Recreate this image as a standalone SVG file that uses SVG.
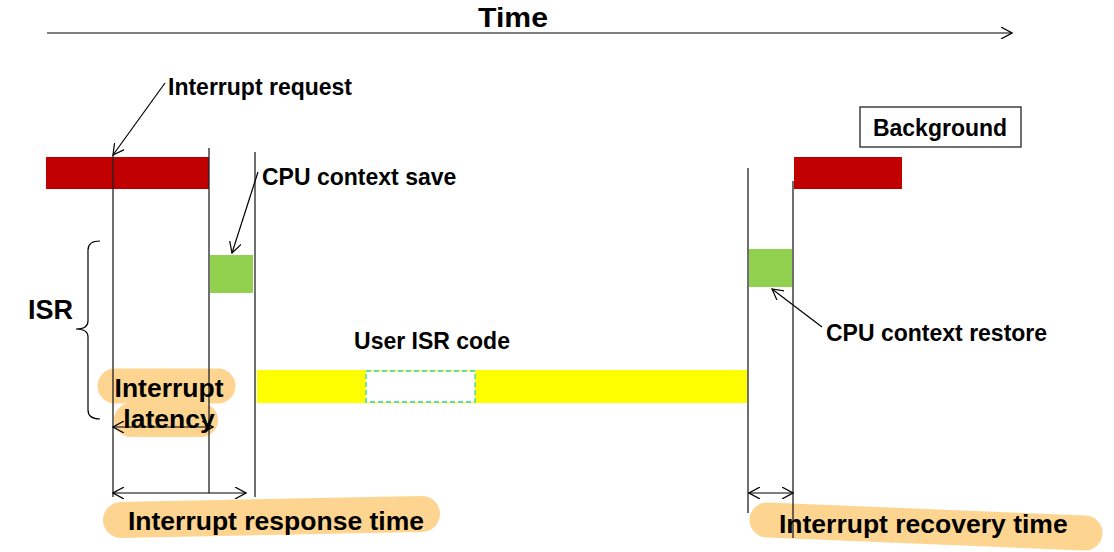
<svg xmlns="http://www.w3.org/2000/svg" width="1114" height="552" viewBox="0 0 1114 552">
<style>
text{font-family:"Liberation Sans",Arial,sans-serif;font-weight:bold;fill:#000}
.m{font-size:23px}
.l{font-size:26.5px}
.hl{stroke:#fdd590;stroke-linecap:round;fill:none}
.v{stroke:#222;stroke-width:1.3;fill:none}
.a{stroke:#000;stroke-width:1.2;fill:none}
</style>
<defs>
<marker id="ah" viewBox="0 0 12 12" refX="11" refY="6" markerWidth="12" markerHeight="12" markerUnits="userSpaceOnUse" orient="auto-start-reverse">
<path d="M0,0 L11,6 L0,12" fill="none" stroke="#000" stroke-width="1.2"/>
</marker>
</defs>
<rect width="1114" height="552" fill="#fff"/>

<g id="time">
<text x="513" y="27" font-size="28" text-anchor="middle" textLength="70" lengthAdjust="spacingAndGlyphs">Time</text>
<line x1="47" y1="33" x2="1012" y2="33" class="a" marker-end="url(#ah)"/>
</g>

<g id="highlights">
<line class="hl" x1="115" y1="386" x2="218" y2="386" stroke-width="35"/>
<line class="hl" x1="131" y1="420" x2="201" y2="420" stroke-width="34"/>
<line class="hl" x1="121" y1="520" x2="422" y2="514" stroke-width="36"/>
<line class="hl" x1="767" y1="520" x2="1085" y2="533" stroke-width="35"/>
</g>

<g id="background-bar-left"><rect x="46" y="157" width="163" height="32" fill="#c00000"/></g>
<g id="background-bar-right"><rect x="794" y="157" width="108" height="32" fill="#c00000"/></g>
<g id="context-save"><rect x="210" y="255" width="43" height="38" fill="#92d050"/></g>
<g id="context-restore"><rect x="749" y="249" width="43" height="38" fill="#92d050"/></g>
<g id="user-isr">
<rect x="257" y="370" width="490" height="33" fill="#ffff00"/>
<rect x="366" y="371" width="109" height="31" fill="#fff" stroke="#33d6a8" stroke-width="1.3" stroke-dasharray="5,3"/>
<text class="m" x="432" y="349" text-anchor="middle">User ISR code</text>
</g>
<g id="background-label">
<rect x="860" y="107" width="161" height="40" fill="#fff" stroke="#222" stroke-width="1.3"/>
<text class="m" x="940" y="136" text-anchor="middle">Background</text>
</g>

<g id="connectors">
<line class="v" x1="113" y1="155" x2="113" y2="497"/>
<line class="v" x1="209" y1="148" x2="209" y2="493"/>
<line class="v" x1="255" y1="152" x2="255" y2="497"/>
<line class="v" x1="748" y1="168" x2="748" y2="513"/>
<line class="v" x1="793" y1="181" x2="793" y2="538"/>
<line class="a" x1="165" y1="83" x2="113" y2="155" marker-end="url(#ah)"/>
<line class="a" x1="258" y1="172" x2="232" y2="253" marker-end="url(#ah)"/>
<line class="a" x1="822" y1="327" x2="772" y2="289" marker-end="url(#ah)"/>
<line class="a" x1="113" y1="427" x2="213" y2="427" marker-start="url(#ah)" marker-end="url(#ah)"/>
<line class="a" x1="113" y1="493" x2="246" y2="493" marker-start="url(#ah)" marker-end="url(#ah)"/>
<line class="a" x1="749" y1="493" x2="793" y2="493" marker-start="url(#ah)" marker-end="url(#ah)"/>
<path class="a" d="M100,241 Q88,241 88,250 L88,321 Q88,329 76,329 Q88,329 88,337 L88,410 Q88,419 100,419"/>
</g>

<g id="labels">
<text class="m" x="168" y="95">Interrupt request</text>
<text class="m" x="262" y="185">CPU context save</text>
<text class="m" x="826" y="341">CPU context restore</text>
<text x="28" y="319" font-size="27">ISR</text>
<text class="l" x="169" y="397" text-anchor="middle">Interrupt</text>
<text class="l" x="169" y="428" text-anchor="middle">latency</text>
<text class="l" x="128" y="530">Interrupt response time</text>
<text class="l" x="779" y="533">Interrupt recovery time</text>
</g>
</svg>
